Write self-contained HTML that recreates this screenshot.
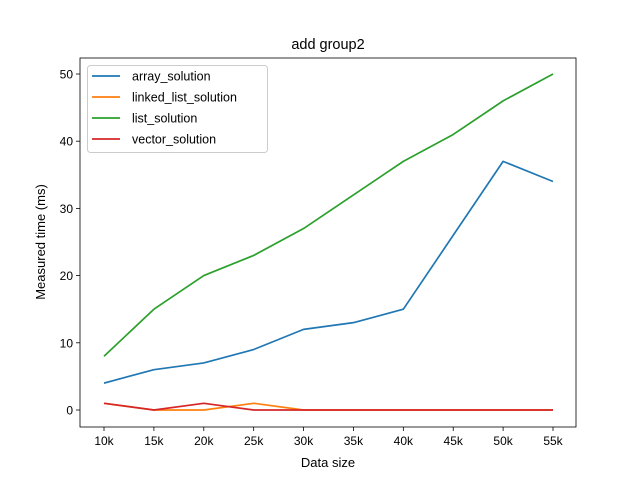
<!DOCTYPE html>
<html><head><meta charset="utf-8"><style>body{margin:0;background:#fff}svg{display:block;font-family:"Liberation Sans","DejaVu Sans",sans-serif}</style></head>
<body>
<svg id="chart" width="640" height="480"></svg>
<script>
const categories=["10k","15k","20k","25k","30k","35k","40k","45k","50k","55k"];
const arrayValues=[4,6,7,9,12,13,15,26,37,34];
const linkedValues=[1,0,0,1,0,0,0,0,0,0];
const listValues=[8,15,20,23,27,32,37,41,46,50];
const vectorValues=[1,0,1,0,0,0,0,0,0,0];
const yTicks=[0,10,20,30,40,50];
const seriesNames=["array_solution","linked_list_solution","list_solution","vector_solution"];
const seriesColors=["#1f77b4","#ff7f0e","#2ca02c","#d62728"];
const NS="http://www.w3.org/2000/svg";
const svg=document.getElementById('chart');
const L=80,R=576,T=58,B=427;
const x0=104,x1=553;
function xs(i){return x0+(x1-x0)*i/(categories.length-1);}
const yMin=-2.5,yMax=52.5;
function ys(v){return 410-(v/50)*336;}
function mk(t,a){const e=document.createElementNS(NS,t);for(const k in a)e.setAttribute(k,a[k]);svg.appendChild(e);return e;}
let e=mk('text',{x:328,y:49,'text-anchor':'middle','font-size':14.5});e.textContent='add group2';


categories.forEach((c,i)=>{
 let t=mk('line',{x1:xs(i),x2:xs(i),y1:B,y2:B+4,stroke:'#000','stroke-width':0.8});
 
 
 let l=mk('text',{x:xs(i),y:B+18,'text-anchor':'middle','font-size':12});l.textContent=c;
 
 
});
yTicks.forEach(v=>{
 let t=mk('line',{x1:L-4,x2:L,y1:ys(v),y2:ys(v),stroke:'#000','stroke-width':0.8});
 
 
 let l=mk('text',{x:L-7,y:ys(v)+4.5,'text-anchor':'end','font-size':12});l.textContent=v;
 
 
});
e=mk('text',{x:328,y:467,'text-anchor':'middle','font-size':13});e.textContent='Data size';


e=mk('text',{x:45,y:242,'text-anchor':'middle','font-size':13,transform:'rotate(-90 45 242)'});e.textContent='Measured time (ms)';


[arrayValues,linkedValues,listValues,vectorValues].forEach((vals,s)=>{
 let p=mk('polyline',{points:vals.map((v,i)=>xs(i)+','+ys(v)).join(' '),fill:'none',stroke:seriesColors[s],'stroke-width':1.7,'stroke-linejoin':'round'});
 
 
});
e=mk('rect',{x:L,y:T,width:R-L,height:B-T,fill:'none',stroke:'#000','stroke-width':0.8});


e=mk('rect',{x:87.5,y:65.5,width:180,height:87,rx:3,fill:'#fff','fill-opacity':0.8,stroke:'#ccc'});


seriesNames.forEach((n,s)=>{
 const y=76+s*21;
 let l=mk('line',{x1:92,x2:120,y1:y,y2:y,stroke:seriesColors[s],'stroke-width':1.7});
 
 
 let t=mk('text',{x:132,y:y+4.5,'font-size':12.5});t.textContent=n;
 
 
});
</script>
</body></html>
